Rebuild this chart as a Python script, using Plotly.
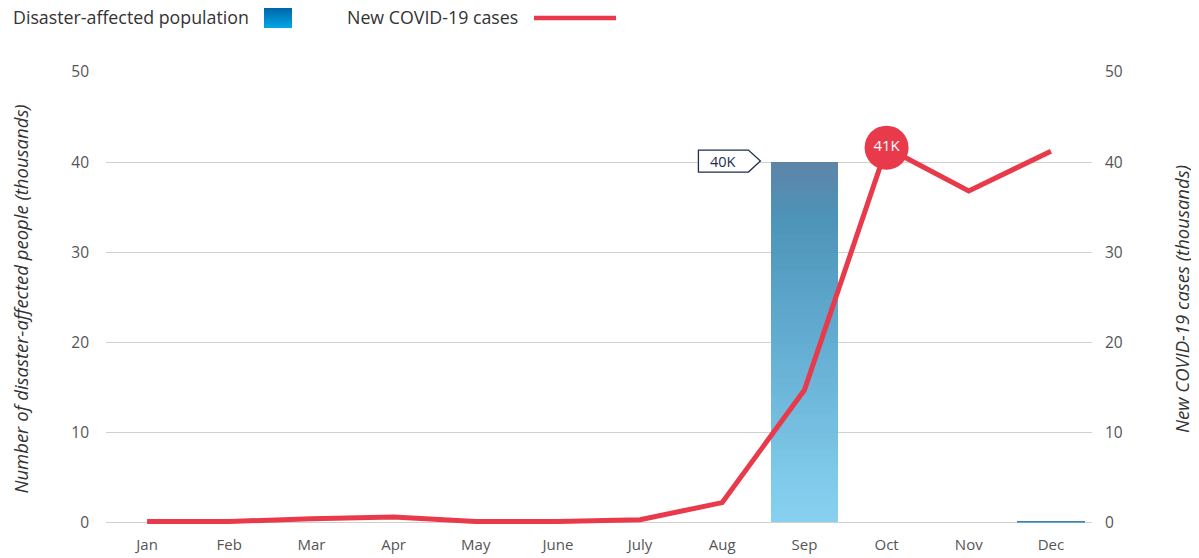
import plotly.graph_objects as go

months = ["Jan", "Feb", "Mar", "Apr", "May", "June", "July", "Aug", "Sep", "Oct", "Nov", "Dec"]
disaster_affected = [0, 0, 0, 0, 0, 0, 0, 0, 40.0, 0, 0, 0.1]
covid_cases = [0.1, 0.1, 0.4, 0.6, 0.1, 0.1, 0.3, 2.2, 14.7, 41.6, 36.8, 41.2]
y_ticks = [0, 10, 20, 30, 40, 50]
bar_label = "40K"
peak_label = "41K"
peak_month = "Oct"

FONT = "Open Sans, Segoe UI, sans-serif"
RED = "#e83a4b"
NAVY = "#1b2f4e"

# gradient stops (bottom -> top) for the bar
stops = [(0.0, (126, 206, 240)), (0.5, (86, 166, 206)), (0.85, (62, 138, 178)), (1.0, (80, 122, 160))]


def interp(t):
    for (t0, c0), (t1, c1) in zip(stops[:-1], stops[1:]):
        if t0 <= t <= t1:
            f = (t - t0) / (t1 - t0) if t1 > t0 else 0
            return "rgb(%d,%d,%d)" % tuple(round(a + (b - a) * f) for a, b in zip(c0, c1))
    return "rgb(%d,%d,%d)" % stops[-1][1]


fig = go.Figure()
N = 60
for k in range(N):
    fig.add_trace(go.Bar(
        x=months, y=[v / N for v in disaster_affected],
        marker=dict(color=interp((k + 0.5) / N), line=dict(width=0)),
        opacity=0.92, width=0.82, showlegend=False, hoverinfo="skip", yaxis="y"))

fig.add_trace(go.Scatter(
    x=months, y=covid_cases, mode="lines", yaxis="y2",
    line=dict(color=RED, width=5), showlegend=False))

pk = months.index(peak_month)
fig.add_trace(go.Scatter(
    x=[peak_month], y=[covid_cases[pk]], mode="markers+text", yaxis="y2",
    marker=dict(size=44, color=RED), text=[peak_label], textposition="middle center",
    textfont=dict(color="white", size=15, family=FONT), showlegend=False, cliponaxis=False))

# page is offset by the 8px default body margin -> compensate
OFF = 8
W, H = 1199, 558
ml, mr, mt = 106, 107, 72
plot_h = 9 * 50.4
mb = H - mt - plot_h


def px_x(p):
    return (p - ml) / (W - ml - mr)


def px_y(p):
    return (H - mb - p) / plot_h


# "40K" callout: pentagon tag anchored to the bar top
sep = disaster_affected.index(max(disaster_affected))
fig.add_shape(type="path", xref="x", yref="y",
              xsizemode="pixel", ysizemode="pixel",
              xanchor=sep, yanchor=disaster_affected[sep],
              path="M -106,-10 L -56,-10 L -44,1 L -56,12 L -106,12 Z",
              fillcolor="white", line=dict(color=NAVY, width=1.3), layer="above")
fig.add_annotation(x=months[sep], y=disaster_affected[sep], xref="x", yref="y",
                   text=bar_label, showarrow=False, xshift=-81, yshift=1,
                   font=dict(size=14.5, color=NAVY, family=FONT))

# legend (text followed by swatch)
fig.add_annotation(x=px_x(11), y=px_y(17), xref="paper", yref="paper",
                   text="Disaster-affected population",
                   showarrow=False, xanchor="left", yanchor="middle",
                   font=dict(size=17.8, color="#333", family=FONT))
fig.add_annotation(x=px_x(345), y=px_y(17), xref="paper", yref="paper",
                   text="New COVID-19 cases",
                   showarrow=False, xanchor="left", yanchor="middle",
                   font=dict(size=17.8, color="#333", family=FONT))

# legend swatches: gradient square and red line
sw_steps = 10
for i in range(sw_steps):
    t = i / sw_steps
    c0 = (0, 94, 160)
    c1 = (0, 165, 228)
    col = "rgb(%d,%d,%d)" % tuple(round(a + (b - a) * (t + 0.5 / sw_steps)) for a, b in zip(c0, c1))
    fig.add_shape(type="rect", xref="paper", yref="paper",
                  x0=px_x(264), x1=px_x(292),
                  y0=px_y(6 + 21 * t), y1=px_y(6 + 21 * (t + 1 / sw_steps) + 1),
                  fillcolor=col, line=dict(width=0), layer="above")
fig.add_shape(type="line", xref="paper", yref="paper",
              x0=px_x(534), x1=px_x(616), y0=px_y(18), y1=px_y(18),
              line=dict(color=RED, width=4.5), layer="above")

axis_font = dict(size=15.5, color="#555", family=FONT)
title_font = dict(size=18.5, color="#333", family=FONT)

fig.update_layout(
    width=W - OFF, height=H - OFF,
    margin=dict(l=ml - OFF, r=mr, t=mt - OFF, b=mb, pad=0),
    paper_bgcolor="white", plot_bgcolor="white", barmode="stack", bargap=0,
    font=dict(family=FONT),
    xaxis=dict(type="category", range=[-0.5, 11.5], showgrid=False, showline=False,
               zeroline=False, ticks="", tickfont=dict(size=15, color="#555", family=FONT),
               ticklabelstandoff=8, automargin=False),
    yaxis=dict(range=[-0.4, 50], tickvals=y_ticks, showgrid=True, gridcolor="#d0d0d0",
               gridwidth=1, zeroline=False, showline=False, tickfont=axis_font,
               ticklabelstandoff=16, automargin=False,
               title=dict(text="<i>Number of disaster-affected people (thousands)</i>",
                          font=title_font, standoff=42)),
    yaxis2=dict(range=[-0.4, 50], tickvals=y_ticks, overlaying="y", side="right",
                showgrid=False, zeroline=False, showline=False, tickfont=axis_font,
                ticklabelstandoff=12, automargin=False,
                title=dict(text="<i>New COVID-19 cases (thousands)</i>",
                           font=title_font, standoff=54)),
    showlegend=False,
)

fig.write_html("out.html")
